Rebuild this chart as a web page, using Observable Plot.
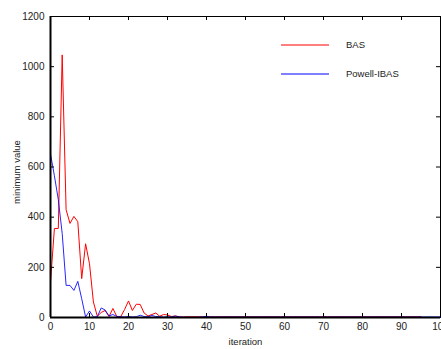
<!DOCTYPE html>
<html><head><meta charset="utf-8">
<script src="https://cdn.jsdelivr.net/npm/d3@7"></script>
<script src="https://cdn.jsdelivr.net/npm/@observablehq/plot@0.6"></script>
<style>
body{margin:0;background:#fff;}
#wrap{position:relative;width:441px;height:349px;overflow:hidden;}
#legend{position:absolute;left:0;top:0;pointer-events:none;}
</style></head><body><div id="wrap"></div>
<script>
// BAS (red) minimum value per iteration 0..100
const basValues = [140,355,355,1047,430,375,403,382,155,294,214,62,5,20,28,4,36,4,3,32,66,28,53,52,18,6,12,18,5,12,10,4,6,3,2,
  3,3,3,3,3,3,3,3,3,3,3,3,3,3,3,3,3,3,3,3,3,3,3,3,3,3,3,3,3,3,3,3,3,3,3,3,3,3,3,3,3,3,3,3,3,3,3,3,3,3,3,3,3,3,3,3,3,3,3,3,3];
// Powell-IBAS (blue) minimum value per iteration 0..100
const ibasValues = [652,565,470,335,128,128,108,144,75,2,26,2,3,38,30,6,12,4,3,2,4,2,3,9,4,3,8,4,3,2,3,2,6,2,1,1,1,1,1,2,5,
  2,2,2,2,2,2,2,2,2,2,2,2,2,2,2,2,2,2,2,2,2,2,2,2,2,2,2,2,2,2,2,2,2,2,2,2,2,2,2,2,2,2,2,2,2,2,2,2,2,2,2,2,2,2,2,2,2,2,2,2];
const xTicks = [0,10,20,30,40,50,60,70,80,90,100];
const yTicks = [0,200,400,600,800,1000,1200];
const seriesNames = ["BAS","Powell-IBAS"];
const seriesColors = ["#ff0000","#0000ff"];
const xLabel = "iteration";
const yLabel = "minimum value";

const bas = basValues.map((v,i)=>({i, v}));
const ibas = ibasValues.map((v,i)=>({i, v}));

const W = 441, H = 349, mt = 16, mb = 32, ml = 50, mr = 1;
const fw = W - ml - mr, fh = H - mt - mb;

const chart = Plot.plot({
  width: W, height: H,
  marginTop: mt, marginBottom: mb, marginLeft: ml, marginRight: mr,
  style: {fontFamily: "'Liberation Sans Narrow','Liberation Sans',Arial,sans-serif", fontSize: "10px", color: "#222", background: "#fff"},
  x: {domain: [0,100]},
  y: {domain: [0,1200]},
  marks: [
    Plot.frame({stroke: "#000", strokeWidth: 1}),
    Plot.line(bas, {x: "i", y: "v", stroke: seriesColors[0], strokeWidth: 1}),
    Plot.line(ibas, {x: "i", y: "v", stroke: seriesColors[1], strokeWidth: 1, strokeOpacity: 0.85}),
    Plot.ruleX([0], {stroke: "#000", strokeWidth: 2}),
    Plot.ruleY([0], {stroke: "#000", strokeWidth: 2}),
    Plot.tickX(xTicks, {x: d=>d, insetTop: fh - 4, stroke: "#000"}),
    Plot.tickX(xTicks, {x: d=>d, insetBottom: fh - 4, stroke: "#000"}),
    Plot.tickY(yTicks, {y: d=>d, insetRight: fw - 4, stroke: "#000"}),
    Plot.tickY(yTicks, {y: d=>d, insetLeft: fw - 4, stroke: "#000"}),
    Plot.axisX({ticks: xTicks, tickSize: 0, tickPadding: 5, label: null, tickFormat: d=>String(d)}),
    Plot.axisY({ticks: yTicks, tickSize: 0, tickPadding: 6, label: null, tickFormat: d=>String(d)}),
    Plot.text([xLabel], {text: d=>d, frameAnchor: "bottom", dy: 27, fontFamily: "'Liberation Sans',Arial,sans-serif", fontSize: 9.5, fill: "#222"}),
    Plot.text([yLabel], {text: d=>d, frameAnchor: "left", rotate: -90, dx: -34, dy: 37, fontFamily: "'Liberation Sans',Arial,sans-serif", fontSize: 9.5, fill: "#222"})
  ]
});
document.getElementById("wrap").appendChild(chart);

// legend overlay
const leg = d3.select("#wrap").append("svg").attr("id","legend").attr("width", W).attr("height", H);
const items = leg.selectAll("g").data(seriesNames).join("g")
  .attr("transform", (d,k)=>`translate(0,${45 + k*29})`);
items.append("line").attr("x1", 281).attr("x2", 329).attr("y1", 0).attr("y2", 0)
  .attr("stroke", (d,k)=>seriesColors[k]).attr("stroke-width", 1);
items.append("text").attr("x", 346).attr("y", 0).attr("dy", "0.35em")
  .attr("font-family", "'Liberation Sans',Arial,sans-serif").attr("font-size", 9.5).attr("fill", "#222")
  .text(d=>d);
</script></body></html>
